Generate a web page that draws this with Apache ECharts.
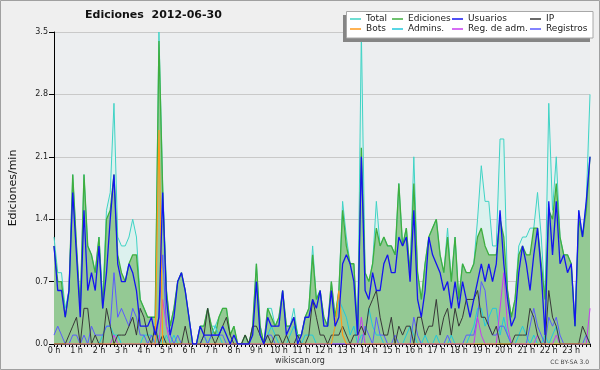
<!DOCTYPE html>
<html><head><meta charset="utf-8">
<script src="https://cdn.jsdelivr.net/npm/echarts@6/dist/echarts.min.js"></script>
<style>html,body{margin:0;padding:0;background:#efefef}#c{width:600px;height:370px}</style>
</head><body><div id="c"></div>
<script>
const hourLabels = ["0 h","1 h","2 h","3 h","4 h","5 h","6 h","7 h","8 h","9 h","10 h","11 h","12 h","13 h","14 h","15 h","16 h","17 h","18 h","19 h","20 h","21 h","22 h","23 h"];
const yTicks = [0, 0.7, 1.4, 2.1, 2.8, 3.5];

const total = [
1.2,0.8,0.8,0.4,0.6,1.9,1.1,0.4,1.9,1.1,1.0,0.8,
1.2,0.5,1.5,1.7,2.7,1.2,1.1,1.1,1.2,1.4,1.2,0.5,
0.4,0.3,0.3,0.3,3.5,1.8,0.6,0.2,0.4,0.7,0.8,0.6,
0.3,0,0,0.2,0.2,0.4,0.2,0.2,0.3,0.4,0.4,0.1,
0.2,0,0,0.1,0,0.2,0.9,0.2,0,0.4,0.4,0.2,
0.3,0.6,0.2,0.2,0.4,0.1,0.1,0.3,0.4,1.1,0.5,0.6,
0.3,0.2,0.7,0.3,0.6,1.6,1.2,0.9,0.9,0.1,3.5,0.8,
0.7,0.9,1.6,1.1,1.2,1.1,1.1,1.0,1.8,1.1,1.3,0.8,
2.1,0.8,0.5,0.9,1.2,1.3,1.4,1.0,0.8,1.3,0.7,1.2,
0.5,0.9,0.8,0.8,0.9,1.4,2.0,1.6,1.6,1.1,1.1,2.3,
2.3,0.6,0.3,0.5,1.1,1.2,1.2,1.3,1.3,1.7,1.2,0.5,
2.7,1.5,2.1,1.2,1.0,1.0,0.9,0.2,1.5,1.2,1.6,2.8];

const ediciones = [
1.1,0.7,0.7,0.3,0.6,1.9,1.1,0.4,1.9,1.1,1.0,0.8,
1.2,0.4,1.4,1.5,1.9,1.0,0.8,0.7,0.9,1.0,1.0,0.5,
0.4,0.3,0.3,0.3,3.4,1.7,0.6,0.2,0.4,0.7,0.8,0.6,
0.3,0,0,0.2,0.2,0.4,0.2,0.1,0.3,0.4,0.4,0.1,
0.2,0,0,0.1,0,0.2,0.9,0.2,0,0.4,0.3,0.2,
0.3,0.6,0.2,0.2,0.3,0.1,0.1,0.3,0.4,1.0,0.5,0.6,
0.3,0.2,0.7,0.3,0.6,1.5,1.1,0.9,0.9,0.1,2.2,0.8,
0.7,0.9,1.3,1.1,1.2,1.1,1.1,1.0,1.8,1.1,1.3,0.8,
1.8,0.8,0.5,0.9,1.2,1.3,1.4,1.0,0.8,1.2,0.7,1.2,
0.5,0.9,0.8,0.8,0.9,1.2,1.3,1.1,1.0,1.0,1.0,1.4,
1.2,0.6,0.3,0.5,1.0,1.1,1.0,1.0,1.3,1.3,0.9,0.5,
1.5,1.4,1.8,1.2,1.0,1.0,0.9,0.2,1.4,1.2,1.5,2.1];

const usuarios = [
1.1,0.6,0.6,0.3,0.6,1.7,1.0,0.3,1.5,0.6,0.8,0.6,
1.1,0.4,0.8,1.4,1.9,0.9,0.7,0.7,0.9,0.8,0.6,0.2,
0.2,0.2,0.3,0.1,0.3,1.7,0.5,0.1,0.3,0.7,0.8,0.6,
0.3,0,0,0.2,0.1,0.1,0.1,0.1,0.1,0.2,0.1,0,
0.1,0,0,0,0,0.1,0.7,0.1,0,0.3,0.2,0.2,
0.2,0.6,0.1,0.2,0.3,0,0.1,0.3,0.3,0.5,0.4,0.6,
0.2,0.2,0.6,0.2,0.3,0.9,1.0,0.9,0.7,0.1,2.1,0.6,
0.5,0.8,0.6,0.6,0.9,1.0,0.8,0.8,1.2,1.1,1.2,0.7,
1.5,0.5,0.3,0.6,1.2,1.0,0.9,0.8,0.6,0.7,0.4,0.7,
0.4,0.7,0.5,0.3,0.5,0.7,0.9,0.7,0.9,0.7,0.9,1.5,
0.9,0.5,0.2,0.3,0.8,1.1,0.9,0.6,1.0,1.3,0.8,0.1,
1.6,1.0,1.6,0.9,1.0,0.8,0.9,0.2,1.5,1.2,1.6,2.1];

const ip = [
0,0,0,0,0.1,0.2,0.3,0,0.4,0.4,0,0.1,
0,0,0.4,0.2,0,0.1,0.1,0.1,0.2,0.3,0.1,0.4,
0.3,0.1,0,0.2,0,0.1,0,0,0,0,0,0.2,
0,0,0,0,0.1,0.4,0.1,0,0.1,0.2,0.3,0.1,
0,0,0,0.1,0,0.2,0.2,0.1,0,0.1,0,0.1,
0.1,0,0.1,0,0,0.1,0,0,0.1,0.5,0.3,0.1,
0.1,0,0.1,0.1,0.1,0.2,0.1,0,0.1,0.1,0.2,0.1,
0.4,0.5,0.6,0.3,0.1,0.1,0.3,0,0.2,0.1,0.2,0.2,
0,0.3,0.3,0.1,0.2,0.2,0.5,0.1,0.3,0.4,0.1,0.4,
0.2,0.3,0.5,0.5,0.5,0.6,0.3,0.3,0.2,0.1,0.2,0,
0,0,0,0.1,0.1,0.1,0.1,0.4,0.3,0.1,0,0,
0.6,0.3,0.2,0,0,0,0,0,0,0.2,0.1,0];

const bots = [
0,0,0,0,0,0,0,0,0,0,0,0,
0,0,0,0,0,0,0,0,0,0,0,0,
0,0,0,0,2.4,0,0,0,0,0,0,0,
0,0,0,0,0,0,0,0,0,0,0,0,
0,0,0,0,0,0,0,0,0,0,0,0,
0,0,0,0,0,0,0,0,0,0,0,0,
0,0,0,0.2,0.6,0.1,0,0,0,0,0,0,
0,0,0,0,0,0,0,0,0,0,0,0,
0,0,0,0,0,0,0,0,0,0,0,0,
0,0,0,0,0,0,0,0,0,0,0,0,
0,0,0,0,0,0,0,0,0,0,0,0,
0,0,0,0,0,0,0,0,0,0,0,0];

const admins = [
0,0,0,0,0,0,0,0,0,0,0,0,
0,0.1,0.2,0.2,0.1,0.1,0,0,0,0,0,0,
0.1,0.1,0.1,0,0.1,0,0.1,0,0.1,0,0,0,
0,0,0,0,0.1,0,0.1,0.2,0.1,0,0,0,
0,0,0,0,0,0,0,0,0,0.1,0.2,0.1,
0,0,0,0.1,0.2,0.1,0,0.1,0.1,0.1,0,0,
0,0,0,0.2,0.5,0.4,0.3,0.1,0.2,0,0.1,0.1,
0.4,0.2,0.1,0.1,0,0,0,0,0,0,0.1,0.2,
0.1,0,0,0.1,0,0,0.1,0,0,0,0.1,0,
0,0,0,0.1,0.2,0.4,0.4,0.2,0.3,0.4,0.4,0.1,
0.3,0.1,0,0,0.1,0.2,0.1,0,0.1,0,0,0.1,
0,0.1,0.2,0,0,0,0,0,0,0,0,0];

const regAdm = [
0,0,0,0,0,0,0,0,0,0,0,0,
0,0,0,0,0.1,0,0,0,0,0,0,0,
0,0,0,0,0,0.5,0.2,0,0,0,0,0,
0,0,0,0,0,0,0,0,0,0,0,0,
0,0,0,0,0,0,0,0,0,0,0,0,
0,0,0,0,0,0,0,0,0,0,0,0,
0,0,0,0,0,0,0,0,0,0,0.3,0,
0,0,0,0,0,0,0,0,0,0,0,0,
0,0,0,0,0,0,0,0,0,0,0,0,
0,0,0,0,0,0.3,0.1,0,0,0,0,0.4,
0.8,0.2,0,0,0,0,0,0,0,0.1,0,0,
0,0,0.1,0,0,0,0,0,0,0,0,0.4];

const registros = [
0.1,0.2,0.1,0,0,0.1,0.1,0,0.1,0,0.2,0.1,
0.1,0.1,0.2,0.2,0.8,0.3,0.4,0.3,0.2,0.4,0.3,0.1,
0.1,0,0.1,0,0.3,1.0,0.2,0.1,0,0.1,0,0,
0,0,0,0,0.1,0,0.1,0.1,0.1,0.1,0,0,
0,0,0,0,0,0,0,0,0,0.1,0.1,0,
0,0,0,0,0,0,0,0,0,0,0,0,
0,0,0,0,0,0,0,0,0,0,0,0.2,
0.1,0,0.3,0.1,0.1,0,0,0.1,0,0,0,0,
0.3,0.1,0,0,0,0,0,0,0,0.1,0,0,
0,0,0.1,0.1,0.1,0.3,0.7,0.6,0.2,0.1,0.1,0.2,
0.2,0.1,0,0,0,0,0,0.2,0.4,0.2,0.1,0,
0.3,0.2,0.3,0.1,0,0,0,0,0,0,0.1,0];

const times = [];
hourLabels.forEach(function(h){ for (let m = 0; m < 60; m += 10) times.push(h + (m ? ':' + m : '')); });

const F = 'DejaVu Sans';
const chart = echarts.init(document.getElementById('c'), null, {renderer: 'canvas'});

function ser(name, data, color, width, area) {
  const s = {
    name: name, type: 'line', data: data, symbol: 'none', showSymbol: false,
    color: color, lineStyle: {color: color, width: width}, z: 2,
    emphasis: {disabled: true}, animation: false
  };
  if (area) s.areaStyle = {color: area, opacity: 1};
  return s;
}

const legendPos = [
  ['Total', 350, 14], ['Ediciones', 392, 14], ['Usuarios', 452, 14], ['IP', 530, 14],
  ['Bots', 350, 24], ['Admins.', 392, 24], ['Reg. de adm.', 452, 24], ['Registros', 530, 24]
];

const option = {
  backgroundColor: '#efefef',
  animation: false,
  title: {
    text: 'Ediciones  2012-06-30', left: 85, top: 10, padding: 0,
    textStyle: {fontFamily: F, fontSize: 11, fontWeight: 'bold', color: '#111'}
  },
  grid: {left: 46, right: 10, top: 32, bottom: 26, show: true, backgroundColor: '#eceef0', borderWidth: 0},
  xAxis: {
    type: 'category', data: times, boundaryGap: false,
    axisLine: {lineStyle: {color: '#000', width: 1}},
    axisTick: {interval: 0, length: 3, lineStyle: {color: '#000'}},
    axisLabel: {interval: 5, margin: 3, fontFamily: F, fontSize: 8, color: '#222',
      formatter: function(v, i){ return hourLabels[Math.round(i / 6)]; }},
    splitLine: {show: false}
  },
  yAxis: {
    type: 'value', min: yTicks[0], max: yTicks[yTicks.length - 1], interval: 0.7,
    name: 'Ediciones/min', nameLocation: 'middle', nameGap: 35, nameRotate: 90,
    nameTextStyle: {fontFamily: F, fontSize: 11, color: '#111'},
    axisLine: {show: true, lineStyle: {color: '#000'}},
    axisTick: {show: true, length: 5, lineStyle: {color: '#000'}},
    axisLabel: {margin: 6, fontFamily: F, fontSize: 8, color: '#222',
      formatter: function(v){ return v.toFixed(1); }},
    splitLine: {lineStyle: {color: '#c9c9c9', width: 1}}
  },
  legend: legendPos.map(function(p){
    return {
      data: [p[0]], left: p[1], top: p[2], padding: 0, z: 120,
      icon: 'rect', itemWidth: 11, itemHeight: 1.5, itemGap: 0,
      selectedMode: false,
      textStyle: {fontFamily: F, fontSize: 9, color: '#222', lineHeight: 10, padding: [0,0,0,0]}
    };
  }),
  graphic: [
    {type: 'rect', z: 100, shape: {x: 343, y: 15, width: 247, height: 27}, style: {fill: '#858585'}},
    {type: 'rect', z: 101, shape: {x: 346.5, y: 11.5, width: 246.5, height: 26.5}, style: {fill: '#ffffff', stroke: '#a8a8a8', lineWidth: 1}},
    {type: 'text', z: 50, x: 300, y: 361, style: {text: 'wikiscan.org', fontFamily: F, fontSize: 8, fill: '#333', textAlign: 'center', textVerticalAlign: 'middle'}},
    {type: 'text', z: 50, x: 589, y: 362, style: {text: 'CC BY-SA 3.0', fontFamily: F, fontSize: 6, fill: '#444', textAlign: 'right', textVerticalAlign: 'middle'}},
    {type: 'rect', z: 50, shape: {x: 0.5, y: 0.5, width: 599, height: 369}, style: {fill: 'none', stroke: '#a0a0a0', lineWidth: 1}}
  ],
  series: [
    ser('Total', total, '#3fd3c5', 1, '#dcf1ee'),
    ser('Ediciones', ediciones, '#3fae3f', 1.3, '#94c994'),
    ser('Admins.', admins, '#22c8dc', 1),
    ser('Registros', registros, '#5a5aff', 1),
    ser('Reg. de adm.', regAdm, '#c83cf0', 1),
    ser('IP', ip, '#383838', 1),
    ser('Bots', bots, '#ff9a1a', 1.2),
    ser('Usuarios', usuarios, '#1414f0', 1.3)
  ]
};
chart.setOption(option);
</script>
</body></html>
